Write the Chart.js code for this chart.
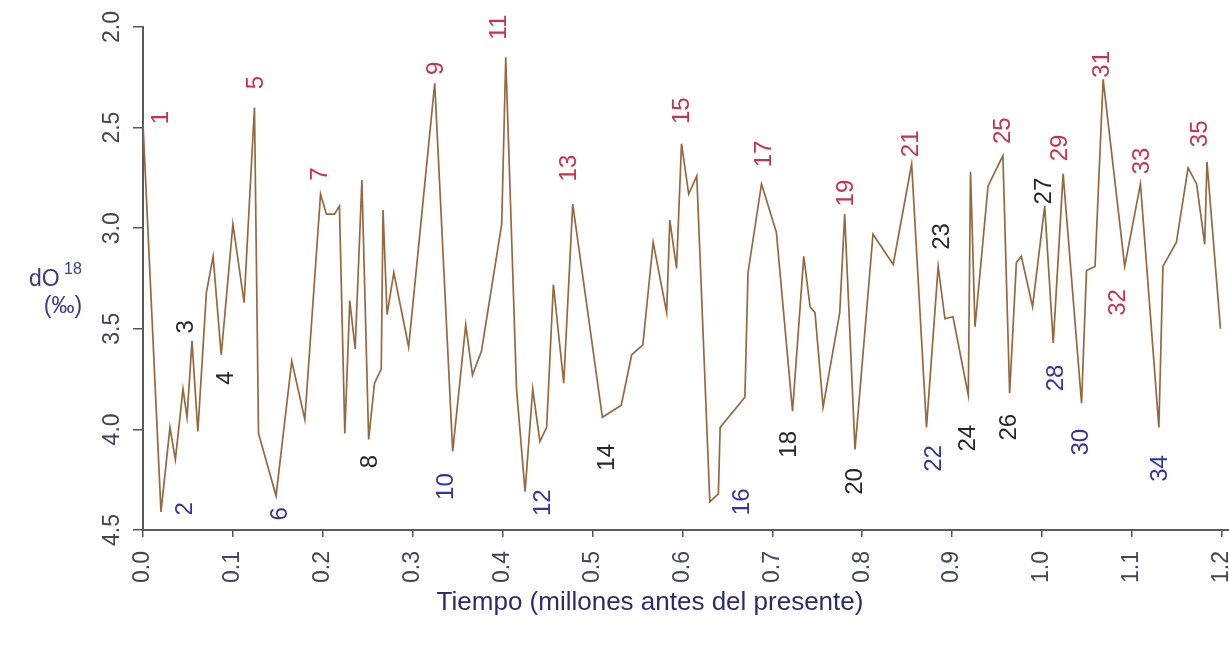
<!DOCTYPE html>
<html>
<head>
<meta charset="utf-8">
<script src="https://cdn.jsdelivr.net/npm/chart.js@4.4.1/dist/chart.umd.min.js"></script>
<style>
  html, body { margin: 0; padding: 0; background: #fff; }
  #chart { display: block; }
</style>
</head>
<body>
<canvas id="chart" width="1229" height="647"></canvas>
<script>
// edad (millones de años) y dO18 (‰)
const ageMa = [
  0.000, 0.020, 0.030, 0.036, 0.0445, 0.049, 0.0545, 0.061, 0.0705, 0.078,
  0.087, 0.100, 0.1125, 0.1185, 0.124, 0.1285, 0.148, 0.1655, 0.180, 0.1975,
  0.204, 0.213, 0.2185, 0.2245, 0.230, 0.236, 0.2435, 0.251, 0.2575, 0.265,
  0.267, 0.2715, 0.279, 0.2955, 0.3245, 0.3445, 0.359, 0.3665, 0.3765, 0.399,
  0.4035, 0.4155, 0.425, 0.4335, 0.4415, 0.449, 0.4565, 0.468, 0.478, 0.511,
  0.532, 0.5435, 0.556, 0.5675, 0.5825, 0.586, 0.5935, 0.599, 0.607, 0.616,
  0.6305, 0.640, 0.642, 0.6695, 0.673, 0.688, 0.7045, 0.7225, 0.735, 0.742,
  0.7475, 0.7565, 0.775, 0.7805, 0.792, 0.812, 0.8345, 0.855, 0.8715, 0.8845,
  0.892, 0.901, 0.918, 0.9205, 0.9255, 0.940, 0.9565, 0.964, 0.9715, 0.977,
  0.9895, 1.003, 1.0125, 1.0235, 1.044, 1.0495, 1.059, 1.068, 1.092, 1.1095,
  1.130, 1.1345, 1.1495, 1.1625, 1.172, 1.181, 1.1835, 1.1985
];
const d18O = [
  2.48, 4.41, 3.99, 4.15, 3.80, 3.94, 3.56, 4.01, 3.32, 3.14,
  3.63, 2.98, 3.37, 2.86, 2.40, 4.02, 4.33, 3.66, 3.95, 2.83,
  2.93, 2.93, 2.89, 4.02, 3.36, 3.60, 2.76, 4.05, 3.77, 3.70,
  2.91, 3.43, 3.22, 3.59, 2.28, 4.11, 3.48, 3.73, 3.61, 2.98,
  2.15, 3.80, 4.31, 3.80, 4.06, 3.99, 3.28, 3.77, 2.88, 3.94,
  3.88, 3.63, 3.58, 3.07, 3.42, 2.96, 3.20, 2.58, 2.83, 2.74,
  4.36, 4.32, 3.99, 3.84, 3.22, 2.78, 3.02, 3.91, 3.14, 3.39,
  3.42, 3.89, 3.42, 2.93, 4.10, 3.03, 3.18, 2.68, 3.99, 3.19,
  3.45, 3.44, 3.83, 2.72, 3.49, 2.79, 2.64, 3.82, 3.17, 3.14,
  3.39, 2.89, 3.57, 2.73, 3.87, 3.21, 3.19, 2.26, 3.19, 2.78,
  3.99, 3.19, 3.07, 2.70, 2.78, 3.08, 2.67, 3.50
];

const xTicks = [0.0, 0.1, 0.2, 0.3, 0.4, 0.5, 0.6, 0.7, 0.8, 0.9, 1.0, 1.1, 1.2];
const yTicks = [2.0, 2.5, 3.0, 3.5, 4.0, 4.5];

// estadios isotópicos y el punto de la serie que marca cada uno
const stageNumbers = [
  1, 2, 3, 4, 5, 6, 7, 8, 9, 10, 11, 12, 13, 14, 15, 16, 17, 18,
  19, 20, 21, 22, 23, 24, 25, 26, 27, 28, 29, 30, 31, 32, 33, 34, 35
];
const stagePoint = [
  0, 1, 6, 10, 14, 16, 19, 27, 34, 35, 40, 42, 48, 49, 57, 60, 65, 67,
  73, 74, 77, 78, 79, 82, 86, 87, 91, 92, 93, 94, 97, 98, 99, 100, 106
];

const FONT = '"Liberation Sans", Arial, sans-serif';
const RED = '#c8324e', BLUE = '#3434a0', DARK = '#26262e';

// desplazamiento de cada número respecto a su punto, y su color
const stageStyle = {
  1: [18, -6, RED], 2: [24, -3, BLUE], 3: [-6, -14, DARK], 4: [5, 23, DARK],
  5: [2, -25, RED], 6: [4, 18, BLUE], 7: [0, -20, RED], 8: [2, 22, DARK],
  9: [2, -15, RED], 10: [-6, 35, BLUE], 11: [-6, -30, RED], 12: [18, 11, BLUE],
  13: [-3, -36, RED], 14: [5, 40, DARK], 15: [1, -33, RED], 16: [33, 0, BLUE],
  17: [3, -30, RED], 18: [-3, 33, DARK], 19: [2, -21, RED], 20: [0, 32, DARK],
  21: [0, -20, RED], 22: [8, 31, BLUE], 23: [4, -30, DARK], 24: [0, 43, DARK],
  25: [0, -25, RED], 26: [0, 34, DARK], 27: [0, -15, DARK], 28: [3, 35, BLUE],
  29: [-3, -26, RED], 30: [0, 39, BLUE], 31: [-1, -15, RED], 32: [-6, 36, RED],
  33: [2, -23, RED], 34: [1, 41, BLUE], 35: [-7, -28, RED]
};

function rotatedText(ctx, text, x, y) {
  ctx.save();
  ctx.translate(x, y);
  ctx.rotate(-Math.PI / 2);
  ctx.fillText(text, 0, 0);
  ctx.restore();
}

const annotations = {
  id: 'annotations',
  afterDraw(chart) {
    const ctx = chart.ctx;
    const xs = chart.scales.x, ys = chart.scales.y;
    ctx.save();
    ctx.textAlign = 'center';
    ctx.textBaseline = 'middle';

    // etiquetas del eje y, giradas como las del eje x
    ctx.font = '23px ' + FONT;
    ctx.fillStyle = '#44445c';
    yTicks.forEach(v => rotatedText(ctx, v.toFixed(1), 113, ys.getPixelForValue(v)));

    // títulos de los ejes
    ctx.fillStyle = '#2c2c6c';
    ctx.font = '26px ' + FONT;
    ctx.fillText('Tiempo (millones antes del presente)', 650, 603);

    ctx.fillStyle = '#3a3a8e';
    ctx.textAlign = 'left';
    ctx.textBaseline = 'alphabetic';
    ctx.font = '23px ' + FONT;
    ctx.fillText('dO', 29, 286);
    ctx.font = '16px ' + FONT;
    ctx.fillText('18', 64, 274);
    ctx.font = '23px ' + FONT;
    ctx.textAlign = 'center';
    ctx.fillText('(‰)', 63, 313);

    // números de los estadios
    ctx.textBaseline = 'middle';
    ctx.font = '24px ' + FONT;
    stageNumbers.forEach((n, i) => {
      const k = stagePoint[i];
      const [dx, dy, color] = stageStyle[n];
      ctx.fillStyle = color;
      rotatedText(ctx, String(n),
        xs.getPixelForValue(ageMa[k]) + dx,
        ys.getPixelForValue(d18O[k]) + dy);
    });
    ctx.restore();
  }
};

new Chart(document.getElementById('chart'), {
  type: 'line',
  data: {
    datasets: [{
      data: ageMa.map((t, i) => ({ x: t, y: d18O[i] })),
      borderColor: '#966840',
      borderWidth: 1.7,
      pointRadius: 0,
      tension: 0,
      fill: false
    }]
  },
  options: {
    responsive: false,
    animation: false,
    layout: { padding: { top: 27, left: 0, right: 0, bottom: 0 } },
    plugins: { legend: { display: false }, tooltip: { enabled: false } },
    scales: {
      x: {
        type: 'linear',
        min: 0,
        max: 1.208,
        afterBuildTicks: s => { s.ticks = xTicks.map(v => ({ value: v })); },
        afterFit: s => { s.height = 117; s.paddingLeft = 0; s.paddingRight = 0; },
        ticks: {
          minRotation: 90,
          maxRotation: 90,
          padding: 14,
          color: '#44445c',
          font: { family: FONT, size: 23 },
          callback: v => v.toFixed(1)
        },
        grid: { drawOnChartArea: false, tickLength: 7, color: '#555', lineWidth: 1.5 },
        border: { color: '#5a5a5a', width: 2 }
      },
      y: {
        type: 'linear',
        min: 2.0,
        max: 4.5,
        reverse: true,
        afterBuildTicks: s => { s.ticks = yTicks.map(v => ({ value: v })); },
        afterFit: s => { s.width = 143; },
        ticks: { display: false },
        grid: { drawOnChartArea: false, tickLength: 10, color: '#555', lineWidth: 1.5 },
        border: { color: '#5a5a5a', width: 2 }
      }
    }
  },
  plugins: [annotations]
});
</script>
</body>
</html>
